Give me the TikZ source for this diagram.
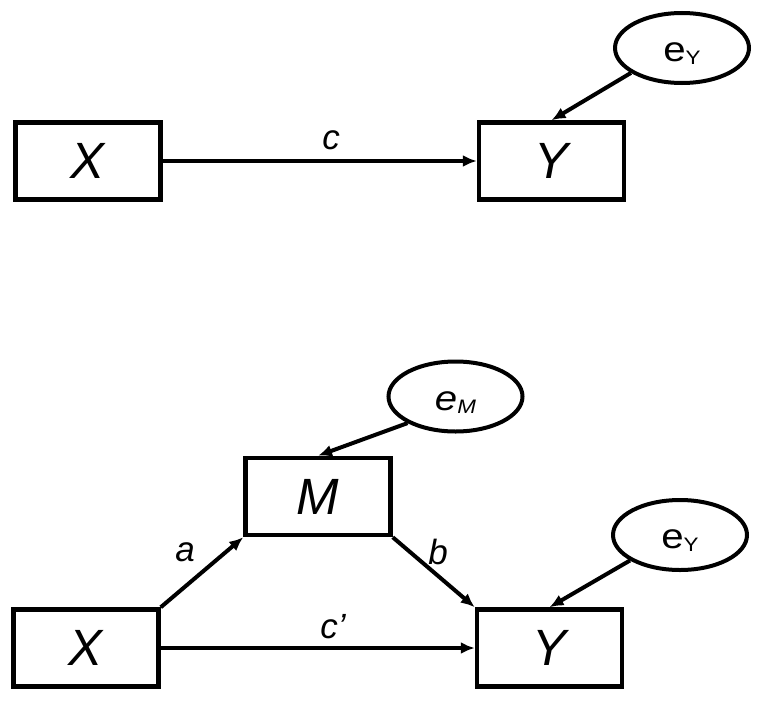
\documentclass[tikz,border=0pt]{standalone}
\usepackage{graphicx}
\usepackage{fontspec}
\setmainfont{Liberation Sans}
\usetikzlibrary{shapes.geometric,arrows.meta}
\tikzset{
  box/.style={draw, line width=4.5pt, rectangle, minimum width=145pt, minimum height=77pt, inner sep=0pt, font=\fontsize{51}{51}\selectfont\itshape},
  err/.style={draw, line width=4pt, ellipse, minimum width=134pt, minimum height=70pt, inner sep=0pt, text height=27pt, text depth=0pt, font=\fontsize{35}{35}\selectfont},
  arr/.style={line width=4pt, -{Latex[length=14pt,width=12pt]}},
  lab/.style={font=\fontsize{35}{35}\selectfont\itshape, inner sep=0pt}
}
\newcommand{\errlab}[1]{\scalebox{1.15}[1]{e\raisebox{-3pt}{\fontsize{19.5}{19.5}\selectfont #1}}}
\begin{document}
\begin{tikzpicture}[x=1pt,y=-1pt]
\useasboundingbox (0,0) rectangle (762,701);
% top model
\node[box] (X1) at (88,161) {X};
\node[box] (Y1) at (551.5,161) {Y};
\node[err] (eY1) at (682,48) {\errlab{Y}};
\draw[arr] (X1.east) -- (Y1.west);
\draw[arr] (eY1.206) -- (Y1.north);
\node[lab] (c) at (331,140) {c};
% bottom model
\node[box] (X2) at (86,648) {X};
\node[box] (Y2) at (549.5,648) {Y};
\node[box] (M) at (318,496.5) {M};
\node[err] (eM) at (455.5,396.5) {\itshape\errlab{M}};
\node[err] (eY2) at (680,535) {\errlab{Y}};
\draw[arr] (X2.east) -- (Y2.west);
\draw[arr] (X2.north east) -- (M.south west);
\draw[arr] (M.south east) -- (Y2.north west);
\draw[arr] (eM.209) -- (M.north);
\draw[arr] (eY2.207) -- (Y2.north);
\node[lab] (a) at (185,552) {a};
\node[lab] (b) at (438,552) {b};
\node[lab] (cp) at (333,627) {c’};
\end{tikzpicture}
\end{document}
